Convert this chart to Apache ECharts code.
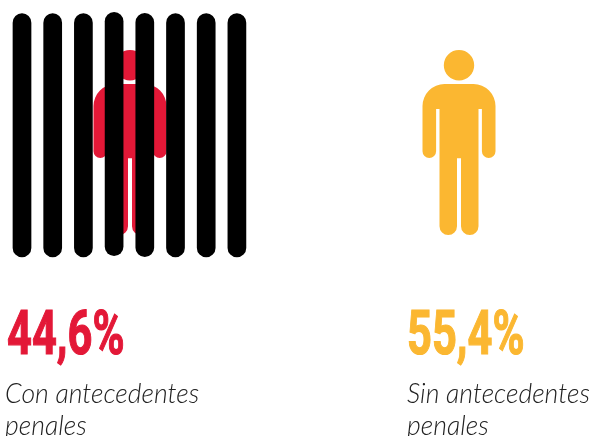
<!DOCTYPE html>
<html><head><meta charset="utf-8">
<style>html,body{margin:0;padding:0;background:#fff}#c{width:592px;height:436px}</style>
<script src="https://cdn.jsdelivr.net/npm/echarts@6/dist/echarts.min.js"></script>
</head><body><div id="c"></div>
<script>
const categories = ['Con antecedentes penales', 'Sin antecedentes penales'];
const values = [44.6, 55.4];
const percentLabels = ['44,6%', '55,4%'];
const descLines = [['Con antecedentes', 'penales'], ['Sin antecedentes', 'penales']];
const colors = ['#E31837', '#FBB731'];
const barIds = ['1', '2', '3', '4', '5', '6', '7', '8'];
const barOffsets = [0.7, 0.7, 0.7, 2, 1, 0.7, 0.7, 0.7];
const barLengths = [244, 244, 244, 244, 244, 244, 244, 244];
const personPath = 'M36.5 0A15.2 15.2 0 1 1 36.5 30.4A15.2 15.2 0 1 1 36.5 0ZM22 34L51 34A22 22 0 0 1 73 56L73 101A6.8 6.8 0 0 1 59.4 101L59.4 59L56 59L56 176A8.75 8.75 0 0 1 38.5 176L38.5 108L34.5 108L34.5 176A8.75 8.75 0 0 1 17 176L17 59L13.6 59L13.6 101A6.8 6.8 0 0 1 0 101L0 56A22 22 0 0 1 22 34Z';

const pctX = [7, 407], descX = [5, 407];
const graphics = [];
categories.forEach((c, i) => {
  graphics.push({
    type: 'text', x: pctX[i], y: 307, scaleX: 0.7, z: 10,
    style: { text: percentLabels[i], fill: colors[i], stroke: colors[i], lineWidth: 1.2, font: 'bold 62px "Liberation Sans Narrow","Roboto",sans-serif' }
  });
  descLines[i].forEach((t, j) => graphics.push({
    type: 'text', x: descX[i], y: 381 + j * 32, z: 10,
    style: { text: t, fill: '#222', font: 'italic 300 26.6px Lato,sans-serif' }
  }));
});

const chart = echarts.init(document.getElementById('c'), null, { renderer: 'canvas' });
chart.setOption({
  animation: false,
  backgroundColor: '#fff',
  grid: [
    { left: 6.65, width: 245.6, top: 12, height: 246 },
    { left: 130, width: 329, top: 0, height: 285 }
  ],
  xAxis: [
    { type: 'category', gridIndex: 0, data: barIds, show: false },
    { type: 'category', gridIndex: 1, data: categories, boundaryGap: false, show: false }
  ],
  yAxis: [
    { type: 'value', gridIndex: 0, min: 0, max: 246, show: false },
    { type: 'value', gridIndex: 1, min: -1, max: 1, show: false }
  ],
  series: [
    { type: 'scatter', xAxisIndex: 1, yAxisIndex: 1, z: 1, symbol: 'path://' + personPath, symbolSize: [73, 185],
      data: categories.map((c, i) => ({ value: [c, 0, values[i]], itemStyle: { color: colors[i], opacity: 1 } })), silent: true },
    { type: 'bar', stack: 'b', xAxisIndex: 0, yAxisIndex: 0, z: 2, barWidth: 18.7, itemStyle: { color: 'transparent' }, data: barOffsets },
    { type: 'bar', stack: 'b', xAxisIndex: 0, yAxisIndex: 0, z: 2, barWidth: 18.7, itemStyle: { color: '#000', borderRadius: 9.35 }, data: barLengths }
  ],
  graphic: graphics
});
</script></body></html>
